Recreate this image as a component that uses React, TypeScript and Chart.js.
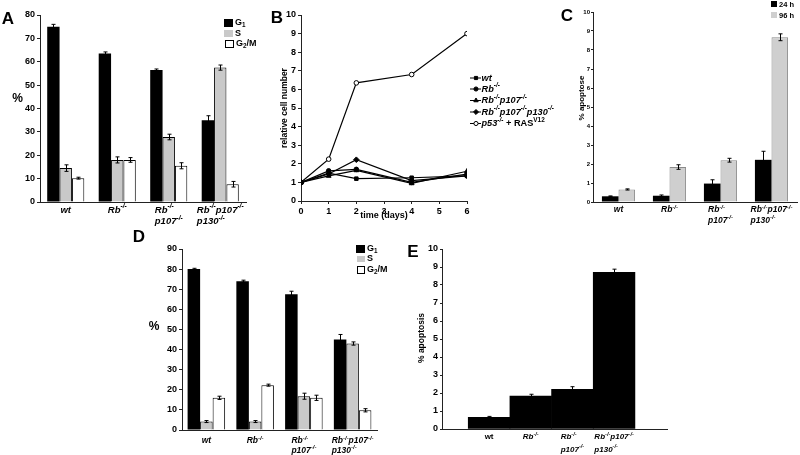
import React, { useEffect, useRef } from 'react';
import { Chart, registerables } from 'chart.js';
import { drawPoint } from 'chart.js/helpers';
Chart.register(...registerables);

const FONT = "'Liberation Sans', Arial, Helvetica, sans-serif";
const GRAY = '#c9c9c9';

// ---------------- data ----------------
const GENOTYPES = [['wt'], ['Rb^{-/-}'], ['Rb^{-/-}', 'p107^{-/-}'], ['Rb^{-/-}p107^{-/-}', 'p130^{-/-}']];
const GENOTYPES_E = [['|wt'], ['Rb^{-/-}'], ['Rb^{-/-}', 'p107^{-/-}'], ['Rb^{-/-}p107^{-/-}', 'p130^{-/-}']];
const PHASES = ['G_{1}', 'S', 'G_{2}/M'];

// Panel A: cell cycle distribution (%)
const A_G1 = [75, 63.5, 56.5, 35];
const A_G1_ERR = [1, 0.7, 0.4, 1.9];
const A_S = [14.5, 18, 27.8, 57.5];
const A_S_ERR = [1.4, 1.3, 1.2, 1.1];
const A_G2M = [10.2, 18, 15.5, 7.6];
const A_G2M_ERR = [0.4, 1, 1.3, 1.2];
const A_Y_TICKS = [0, 80, 10];

// Panel B: relative cell number vs time (days)
const B_DAYS = [0, 1, 2, 4, 6];
const B_SERIES = ['wt', 'Rb^{-/-}', 'Rb^{-/-}p107^{-/-}', 'Rb^{-/-}p107^{-/-}p130^{-/-}', 'p53^{-/-}| + RAS^{V12}'];
const B_WT = [1, 1.5, 1.2, 1.25, 1.35];
const B_RB = [1, 1.62, 1.7, 1.0, 1.45];
const B_RB_P107 = [1, 1.35, 1.65, 0.95, 1.6];
const B_TKO = [1, 1.45, 2.22, 1.1, 1.35];
const B_P53_RAS = [1, 2.25, 6.35, 6.8, 9.0];
const B_Y_TICKS = [0, 10, 1];
const B_X_TICKS = [0, 6, 1];

// Panel C: % apoptose at 24 h / 96 h
const C_TIMES = ['24 h', '96 h'];
const C_24H = [0.3, 0.33, 0.97, 2.22];
const C_24H_ERR = [0.02, 0.04, 0.2, 0.45];
const C_96H = [0.66, 1.84, 2.2, 8.67];
const C_96H_ERR = [0.03, 0.12, 0.1, 0.18];
const C_Y_TICKS = [0, 10, 1];

// Panel D: cell cycle distribution (%)
const D_G1 = [80, 74, 67.5, 45];
const D_G1_ERR = [0.4, 0.5, 1.5, 2.5];
const D_S = [4.2, 4.2, 16.8, 43];
const D_S_ERR = [0.5, 0.5, 1.5, 0.8];
const D_G2M = [16, 22.3, 16, 9.8];
const D_G2M_ERR = [0.8, 0.5, 1.3, 0.8];
const D_Y_TICKS = [0, 90, 10];

// Panel E: % apoptosis
const E_APOP = [0.65, 1.83, 2.2, 8.7];
const E_APOP_ERR = [0.05, 0.1, 0.15, 0.18];
const E_Y_TICKS = [0, 10, 1];

// ---------------- rich text helpers ----------------
type Seg = { t: string; sup: boolean; sub: boolean; it: boolean };
function parseRich(s: string, italic: boolean): Seg[] {
  const out: Seg[] = [];
  let it = italic;
  let buf = '';
  let i = 0;
  const flush = () => {
    if (buf) out.push({ t: buf, sup: false, sub: false, it });
    buf = '';
  };
  while (i < s.length) {
    const c = s[i];
    if ((c === '^' || c === '_') && s[i + 1] === '{') {
      flush();
      const end = s.indexOf('}', i);
      out.push({ t: s.slice(i + 2, end), sup: c === '^', sub: c === '_', it });
      i = end + 1;
    } else if (c === '|') {
      flush();
      it = !it;
      i++;
    } else {
      buf += c;
      i++;
    }
  }
  flush();
  return out;
}
function segFont(s: Seg, size: number) {
  const sz = s.sup || s.sub ? size * 0.7 : size;
  return `${s.it ? 'italic ' : ''}bold ${sz}px ${FONT}`;
}
function richWidth(ctx: any, segs: Seg[], size: number) {
  let w = 0;
  for (const s of segs) {
    ctx.font = segFont(s, size);
    w += ctx.measureText(s.t).width;
  }
  return w;
}
function drawRich(ctx: any, text: string, italic: boolean, x: number, y: number, size: number, align = 'left') {
  const segs = parseRich(text, italic);
  let cx = x;
  const w = richWidth(ctx, segs, size);
  if (align === 'center') cx = x - w / 2;
  ctx.save();
  ctx.fillStyle = '#000';
  ctx.textAlign = 'left';
  ctx.textBaseline = 'middle';
  for (const s of segs) {
    ctx.font = segFont(s, size);
    const dy = s.sup ? -size * 0.36 : s.sub ? size * 0.3 : 0;
    ctx.fillText(s.t, cx, y + dy);
    cx += ctx.measureText(s.t).width;
  }
  ctx.restore();
}

// ---------------- overlay plugin ----------------
function makeOverlay(spec: any) {
  const ox = spec.rect.left;
  const oy = spec.rect.top;
  return {
    id: 'overlay',
    afterDatasetsDraw(chart: any) {
      if (!spec.errs) return;
      const ctx = chart.ctx;
      const ys = chart.scales.y;
      ctx.save();
      ctx.strokeStyle = '#000';
      ctx.lineWidth = 1;
      spec.errs.forEach((errArr: number[], di: number) => {
        const meta = chart.getDatasetMeta(di);
        meta.data.forEach((bar: any, j: number) => {
          const raw = chart.data.datasets[di].data[j];
          const v = typeof raw === 'number' ? raw : raw.y;
          const e = errArr[j];
          const x = Math.round(bar.x) + 0.5;
          const y1 = ys.getPixelForValue(v + e);
          const y2 = ys.getPixelForValue(v - e);
          const cap = spec.cap || 2;
          ctx.beginPath();
          ctx.moveTo(x, y1);
          ctx.lineTo(x, y2);
          ctx.moveTo(x - cap, y1);
          ctx.lineTo(x + cap, y1);
          ctx.moveTo(x - cap, y2);
          ctx.lineTo(x + cap, y2);
          ctx.stroke();
        });
      });
      ctx.restore();
    },
    afterDraw(chart: any) {
      const ctx = chart.ctx;
      // category labels
      if (spec.xLabels) {
        const xl = spec.xLabels;
        const xs = chart.scales.x;
        xl.lines.forEach((lines: string[], i: number) => {
          const px = xs.getPixelForValue(xl.values[i]);
          let maxW = 0;
          lines.forEach((ln) => {
            maxW = Math.max(maxW, richWidth(ctx, parseRich(ln, true), xl.size));
          });
          lines.forEach((ln, k) => {
            drawRich(ctx, ln, true, px - maxW / 2, xl.y - oy + k * xl.lh, xl.size, 'left');
          });
        });
      }
      // box legend
      if (spec.boxLegend) {
        spec.boxLegend.forEach((it: any) => {
          ctx.save();
          ctx.fillStyle = it.fill;
          ctx.fillRect(it.x - ox, it.y - oy, it.w, it.h);
          if (it.stroke) {
            ctx.strokeStyle = it.stroke;
            ctx.lineWidth = 1;
            ctx.strokeRect(it.x - ox + 0.5, it.y - oy + 0.5, it.w - 1, it.h - 1);
          }
          ctx.restore();
          drawRich(ctx, it.label, false, it.tx - ox, it.ty - oy, it.size, 'left');
        });
      }
      // line legend
      if (spec.lineLegend) {
        const L = spec.lineLegend;
        L.labels.forEach((label: string, i: number) => {
          const ds = chart.data.datasets[i];
          const y = L.ys[i] - oy;
          ctx.save();
          ctx.strokeStyle = '#000';
          ctx.lineWidth = 1;
          ctx.beginPath();
          ctx.moveTo(L.x0 - ox, y);
          ctx.lineTo(L.x1 - ox, y);
          ctx.stroke();
          ctx.fillStyle = ds.pointBackgroundColor;
          ctx.strokeStyle = '#000';
          drawPoint(ctx, { pointStyle: ds.pointStyle, radius: ds.pointRadius * 0.9, rotation: 0, borderWidth: 1 } as any, L.xm - ox, y);
          ctx.restore();
          drawRich(ctx, label, true, L.tx - ox, y, L.size, 'left');
        });
      }
      // free notes
      (spec.notes || []).forEach((n: any) => {
        ctx.save();
        ctx.fillStyle = '#000';
        ctx.font = `bold ${n.size}px ${FONT}`;
        ctx.textAlign = 'center';
        ctx.textBaseline = 'middle';
        ctx.translate(n.x - ox, n.y - oy);
        if (n.rot) ctx.rotate(-Math.PI / 2);
        ctx.fillText(n.t, 0, 0);
        ctx.restore();
      });
    },
  };
}

// ---------------- config builder ----------------
function buildConfig(spec: any) {
  const r = spec.rect;
  const a = spec.area;
  const padding = { left: 0, top: a.t - r.top, right: r.left + r.w - a.r, bottom: 0 };
  const yWidth = a.l - r.left;
  const xHeight = r.top + r.h - a.b;
  const yt = spec.y;
  const yScale: any = {
    type: 'linear',
    min: yt.ticks[0],
    max: yt.ticks[1],
    ticks: { stepSize: yt.ticks[2], font: { family: FONT, size: yt.size, weight: 'bold' }, color: '#000', padding: yt.pad },
    grid: { display: true, drawOnChartArea: false, drawTicks: true, tickLength: yt.tick, color: '#222' },
    border: { display: true, color: '#222', width: 1 },
    afterFit: (s: any) => {
      s.width = yWidth;
      s.paddingTop = 0;
      s.paddingBottom = 0;
    },
  };
  let xScale: any;
  if (spec.xTicks) {
    xScale = {
      type: 'linear',
      min: spec.xTicks[0],
      max: spec.xTicks[1],
      ticks: { stepSize: spec.xTicks[2], font: { family: FONT, size: 9, weight: 'bold' }, color: '#000', padding: 2.5, maxRotation: 0 },
      grid: { display: true, drawOnChartArea: false, drawTicks: true, tickLength: 3, color: '#222' },
      border: { display: true, color: '#222', width: 1 },
    };
  } else if (spec.xRange) {
    xScale = {
      type: 'linear',
      offset: false,
      min: spec.xRange[0],
      max: spec.xRange[1],
      ticks: { display: false },
      grid: { display: false, offset: false },
      border: { display: true, color: '#222', width: 1 },
    };
  } else {
    xScale = {
      type: 'category',
      ticks: { display: false },
      grid: { display: false },
      border: { display: true, color: '#222', width: 1 },
    };
  }
  xScale.afterFit = (s: any) => {
    s.height = xHeight;
    s.paddingLeft = 0;
    s.paddingRight = 0;
  };
  return {
    type: spec.type,
    data: { labels: spec.labels, datasets: spec.datasets },
    options: {
      responsive: false,
      animation: false,
      devicePixelRatio: 1,
      layout: { padding },
      datasets: { bar: { categoryPercentage: spec.catPct ?? 0.8, barPercentage: spec.barPct ?? 1 } },
      plugins: { legend: { display: false }, tooltip: { enabled: false }, title: { display: false } },
      scales: { x: xScale, y: yScale },
    },
    plugins: [makeOverlay(spec)],
  };
}

const catLabels = GENOTYPES.map((g) => g.join(' '));

const specA = {
  rect: { left: 0, top: 0, w: 270, h: 228 },
  area: { l: 40, t: 15, r: 246, b: 202 },
  type: 'bar',
  labels: catLabels,
  datasets: [
    { label: PHASES[0], data: A_G1, backgroundColor: '#000', borderWidth: 0 },
    { label: PHASES[1], data: A_S, backgroundColor: GRAY, borderColor: '#000', borderWidth: 1 },
    { label: PHASES[2], data: A_G2M, backgroundColor: '#fff', borderColor: '#000', borderWidth: 1 },
  ],
  errs: [A_G1_ERR, A_S_ERR, A_G2M_ERR],
  catPct: 0.72,
  y: { ticks: A_Y_TICKS, size: 9, tick: 3, pad: 2 },
  xLabels: { lines: GENOTYPES, values: [0, 1, 2, 3], y: 210, lh: 11.5, size: 9.5 },
  boxLegend: [
    { fill: '#000', x: 224, y: 19, w: 9, h: 8, label: PHASES[0], tx: 235, ty: 23, size: 9 },
    { fill: GRAY, x: 224, y: 30, w: 9, h: 7, label: PHASES[1], tx: 235, ty: 33.5, size: 9 },
    { fill: '#fff', stroke: '#000', x: 225, y: 40, w: 9, h: 8, label: PHASES[2], tx: 236, ty: 44, size: 9 },
  ],
  notes: [
    { t: 'A', x: 8, y: 19, size: 17 },
    { t: '%', x: 17.5, y: 99, size: 12 },
  ],
};

const mkPts = (ys: number[]) => B_DAYS.map((d, i) => ({ x: d, y: ys[i] }));
const lineDs = (label: string, ys: number[], style: string, fill: string, radius: number) => ({
  label,
  data: mkPts(ys),
  borderColor: '#000',
  borderWidth: 1.2,
  pointStyle: style,
  pointRadius: radius,
  pointBackgroundColor: fill,
  pointBorderColor: '#000',
  pointBorderWidth: 1,
  tension: 0,
});

const specB = {
  rect: { left: 255, top: 0, w: 310, h: 228 },
  area: { l: 301, t: 15, r: 467, b: 201 },
  type: 'line',
  labels: undefined,
  datasets: [
    lineDs(B_SERIES[0], B_WT, 'rect', '#000', 2.5),
    lineDs(B_SERIES[1], B_RB, 'circle', '#000', 2.3),
    lineDs(B_SERIES[2], B_RB_P107, 'triangle', '#000', 2.8),
    lineDs(B_SERIES[3], B_TKO, 'rectRot', '#000', 2.8),
    lineDs(B_SERIES[4], B_P53_RAS, 'circle', '#fff', 2.3),
  ],
  xTicks: B_X_TICKS,
  y: { ticks: B_Y_TICKS, size: 9, tick: 3, pad: 2 },
  lineLegend: { labels: B_SERIES, ys: [78, 89, 100.5, 112, 123.5], x0: 470, x1: 481, xm: 476, tx: 481.5, size: 9.2 },
  notes: [
    { t: 'B', x: 277, y: 18, size: 17 },
    { t: 'relative cell number', x: 285, y: 108, size: 8.5, rot: true },
    { t: 'time (days)', x: 384, y: 215.5, size: 9 },
  ],
};

const specC = {
  rect: { left: 560, top: 0, w: 240, h: 228 },
  area: { l: 593, t: 12, r: 797, b: 202 },
  type: 'bar',
  labels: catLabels,
  datasets: [
    { label: C_TIMES[0], data: C_24H, backgroundColor: '#000', borderWidth: 0 },
    { label: C_TIMES[1], data: C_96H, backgroundColor: '#cfcfcf', borderColor: '#8a8a8a', borderWidth: 1 },
  ],
  errs: [C_24H_ERR, C_96H_ERR],
  catPct: 0.65,
  y: { ticks: C_Y_TICKS, size: 6, tick: 2, pad: 1 },
  xLabels: { lines: GENOTYPES, values: [0, 1, 2, 3], y: 210, lh: 10.5, size: 8.5 },
  boxLegend: [
    { fill: '#000', x: 771, y: 1, w: 6, h: 6, label: C_TIMES[0], tx: 779, ty: 4.5, size: 7.5 },
    { fill: '#cfcfcf', x: 771, y: 12, w: 6, h: 6, label: C_TIMES[1], tx: 779, ty: 15.5, size: 7.5 },
  ],
  notes: [
    { t: 'C', x: 567, y: 16, size: 17 },
    { t: '% apoptose', x: 582, y: 98, size: 8, rot: true },
  ],
};

const specD = {
  rect: { left: 130, top: 228, w: 260, h: 227 },
  area: { l: 182, t: 249, r: 377, b: 430 },
  type: 'bar',
  labels: catLabels,
  datasets: [
    { label: PHASES[0], data: D_G1, backgroundColor: '#000', borderWidth: 0 },
    { label: PHASES[1], data: D_S, backgroundColor: GRAY, borderColor: '#000', borderWidth: 1 },
    { label: PHASES[2], data: D_G2M, backgroundColor: '#fff', borderColor: '#000', borderWidth: 1 },
  ],
  errs: [D_G1_ERR, D_S_ERR, D_G2M_ERR],
  catPct: 0.77,
  y: { ticks: D_Y_TICKS, size: 9, tick: 3, pad: 2 },
  xLabels: { lines: GENOTYPES, values: [0, 1, 2, 3], y: 441, lh: 9.8, size: 8.5 },
  boxLegend: [
    { fill: '#000', x: 356, y: 245, w: 9, h: 8, label: PHASES[0], tx: 367, ty: 249, size: 9 },
    { fill: GRAY, x: 357, y: 256, w: 8, h: 6, label: PHASES[1], tx: 367, ty: 259, size: 9 },
    { fill: '#fff', stroke: '#000', x: 357, y: 266, w: 8, h: 8, label: PHASES[2], tx: 367, ty: 270, size: 9 },
  ],
  notes: [
    { t: 'D', x: 139, y: 237, size: 17 },
    { t: '%', x: 154, y: 327, size: 12 },
  ],
};

const specE = {
  rect: { left: 395, top: 228, w: 290, h: 227 },
  area: { l: 442, t: 249, r: 667, b: 429 },
  type: 'bar',
  labels: undefined,
  datasets: [
    { label: '% apoptosis', data: E_APOP.map((v, i) => ({ x: i + 1, y: v })), backgroundColor: '#000', borderWidth: 0 },
  ],
  errs: [E_APOP_ERR],
  xRange: [-0.13, 5.27],
  catPct: 1,
  barPct: 1,
  y: { ticks: E_Y_TICKS, size: 9, tick: 2, pad: 2 },
  xLabels: { lines: GENOTYPES_E, values: [1, 2, 3, 4], y: 437, lh: 12.5, size: 8 },
  notes: [
    { t: 'E', x: 413, y: 252, size: 17 },
    { t: '% apoptosis', x: 422, y: 338, size: 8.5, rot: true },
  ],
};

const SPECS = [specA, specB, specC, specD, specE];

function Panel({ spec }: { spec: any }) {
  const ref = useRef<HTMLCanvasElement>(null);
  useEffect(() => {
    const chart = new Chart(ref.current as HTMLCanvasElement, buildConfig(spec) as any);
    return () => chart.destroy();
  }, [spec]);
  const r = spec.rect;
  return (
    <canvas
      ref={ref}
      width={r.w}
      height={r.h}
      style={{ position: 'absolute', left: r.left, top: r.top, width: r.w, height: r.h }}
    />
  );
}

export default function App() {
  return (
    <div style={{ position: 'absolute', left: 0, top: 0, width: 800, height: 455, background: '#fff', overflow: 'hidden' }}>
      {SPECS.map((s, i) => (
        <Panel key={i} spec={s} />
      ))}
    </div>
  );
}
